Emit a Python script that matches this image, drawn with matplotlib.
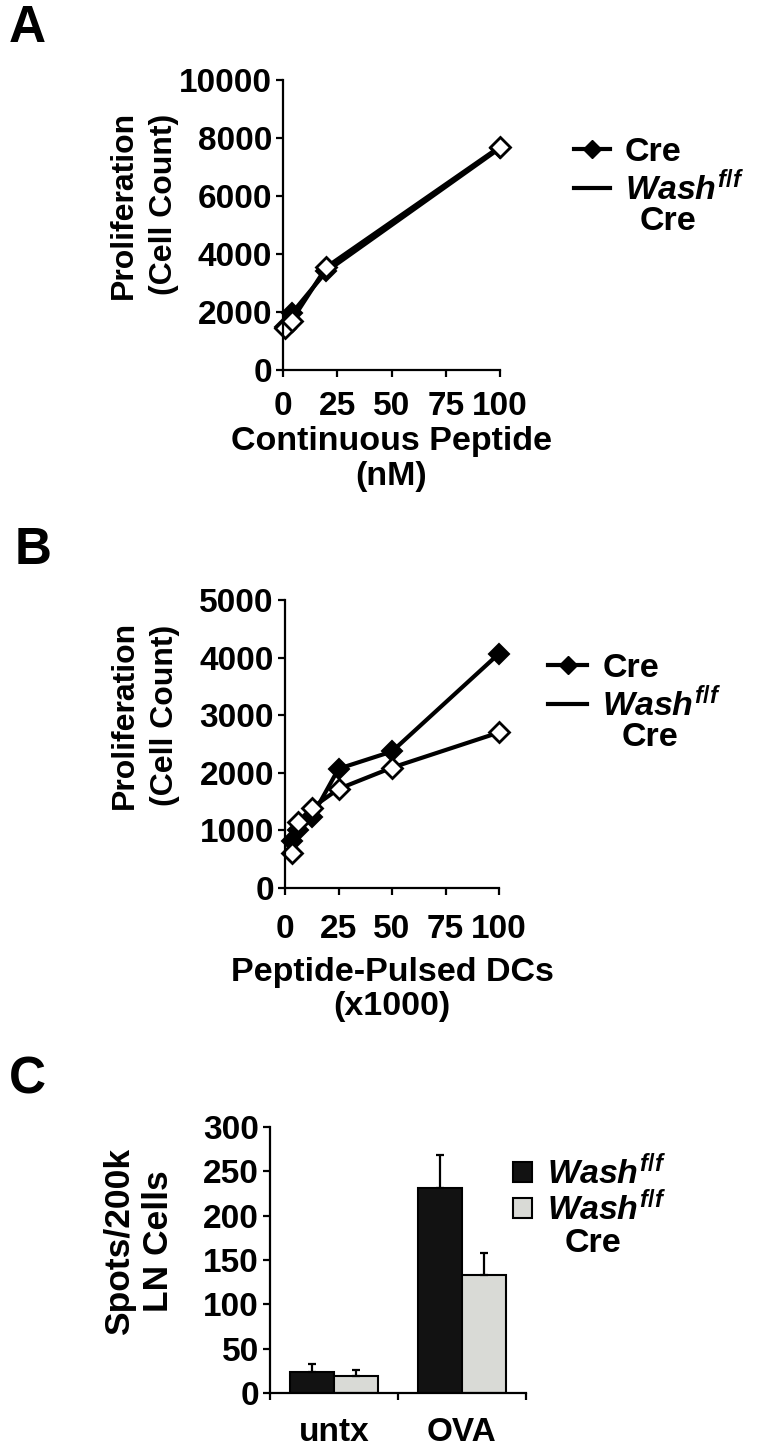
#Program to recreate the three-panel Wash proliferation figure
import matplotlib.pyplot as plt
from matplotlib.lines import Line2D
from matplotlib.patches import Patch

# panel A: continuous peptide (nM)
A_x = [0.8, 4, 20, 100]
A_cre = [1500, 1950, 3400, 7650]
A_wash = [1450, 1700, 3550, 7700]

# panel B: peptide-pulsed DCs (x1000)
B_x = [3.125, 6.25, 12.5, 25, 50, 100]
B_cre = [820, 1000, 1230, 2070, 2370, 4070]
B_wash = [610, 1150, 1390, 1720, 2090, 2700]

# panel C: ELISpot
C_groups = ['untx', 'OVA']
C_wash = [24, 231]
C_wash_err = [9, 37]
C_cre = [19, 133]
C_cre_err = [7, 25]

plt.rcParams['font.family'] = ['Liberation Sans', 'DejaVu Sans']
plt.rcParams['font.weight'] = 'bold'
plt.rcParams['mathtext.fontset'] = 'custom'
plt.rcParams['mathtext.it'] = 'Liberation Sans:italic:bold'
plt.rcParams['mathtext.rm'] = 'Liberation Sans:bold'
plt.rcParams['mathtext.bf'] = 'Liberation Sans:bold'
plt.rcParams['axes.linewidth'] = 1.6

W, H = 764, 1454
fig = plt.figure(figsize=(W / 100, H / 100), dpi=100)


def box(l, t, r, b):
    return [l / W, 1 - b / H, (r - l) / W, (b - t) / H]


def style(ax):
    ax.spines['top'].set_visible(False)
    ax.spines['right'].set_visible(False)
    ax.tick_params(direction='out', length=5, width=1.6, labelsize=24, pad=3)


wash_label = r'$\mathit{Wash}^{\mathit{f}\mathrm{/}\mathit{f}}$'
lab_font = 24.5
ylab_font = 23
leg_font = 24.5

#Panel A
axA = fig.add_axes(box(283, 80, 500, 370))
axA.plot(A_x, A_cre, '-D', color='black', lw=3, ms=10, mfc='black', mec='black', mew=1.5, clip_on=False)
axA.plot(A_x, A_wash, '-D', color='black', lw=3, ms=10, mfc='white', mec='black', mew=2, clip_on=False)
axA.set_xlim(0, 100)
axA.set_ylim(0, 10000)
axA.set_xticks([0, 25, 50, 75, 100])
axA.set_yticks(range(0, 10001, 2000))
style(axA)
axA.tick_params(axis='x', pad=10)
axA.set_xlabel('Continuous Peptide\n(nM)', fontsize=lab_font, fontweight='bold', labelpad=3, linespacing=1.15)
axA.set_ylabel('Proliferation\n(Cell Count)', fontsize=ylab_font, fontweight='bold', linespacing=1.45)
axA.yaxis.set_label_coords(-0.48, 0.57)

#Panel B
axB = fig.add_axes(box(285, 600, 499, 888))
axB.plot(B_x, B_cre, '-D', color='black', lw=3, ms=10, mfc='black', mec='black', mew=1.5, clip_on=False)
axB.plot(B_x, B_wash, '-D', color='black', lw=3, ms=10, mfc='white', mec='black', mew=2, clip_on=False)
axB.set_xlim(0, 100)
axB.set_ylim(0, 5000)
axB.set_xticks([0, 25, 50, 75, 100])
axB.set_yticks(range(0, 5001, 1000))
style(axB)
axB.tick_params(axis='x', pad=14)
axB.set_xlabel('Peptide-Pulsed DCs\n(x1000)', fontsize=lab_font, fontweight='bold', labelpad=8, linespacing=1.15)
axB.set_ylabel('Proliferation\n(Cell Count)', fontsize=ylab_font, fontweight='bold', linespacing=1.45)
axB.yaxis.set_label_coords(-0.49, 0.6)

# legends for A and B, with the second "Cre" line under Wash
for ax, anchor, hl, sub in [(axA, (574 / W, 1 - 137 / H), 1.05, (640, 221)),
                            (axB, (548 / W, 1 - 653 / H), 1.15, (622, 737))]:
    handles = [Line2D([], [], color='black', lw=3, marker='D', ms=9, mfc='black'),
               Line2D([], [], color='black', lw=3)]
    ax.legend(handles, ['Cre', wash_label], loc='upper left', bbox_to_anchor=anchor,
              bbox_transform=fig.transFigure, frameon=False, fontsize=leg_font, handlelength=hl,
              handletextpad=0.45, labelspacing=0.1, borderaxespad=0, borderpad=0)
    fig.text(sub[0] / W, 1 - sub[1] / H, 'Cre', fontsize=leg_font, fontweight='bold', ha='left', va='center')

#Panel C
axC = fig.add_axes(box(270, 1127, 526, 1393))
xs = range(len(C_groups))
w = 0.34
axC.bar([x - w / 2 for x in xs], C_wash, w, color='#121212', edgecolor='black', lw=1.5,
        yerr=[[0] * len(xs), C_wash_err], capsize=3, error_kw=dict(elinewidth=1.6, capthick=1.6), zorder=2)
axC.bar([x + w / 2 for x in xs], C_cre, w, color='#d9dad6', edgecolor='black', lw=1.5,
        yerr=[[0] * len(xs), C_cre_err], capsize=3, error_kw=dict(elinewidth=1.6, capthick=1.6), zorder=2)
axC.set_xlim(-0.5, len(C_groups) - 0.5)
axC.set_ylim(0, 300)
axC.set_yticks(range(0, 301, 50))
axC.set_xticks([-0.5, 0.5, 1.5])
axC.set_xticklabels([])
axC.set_xticks(list(xs), minor=True)
axC.set_xticklabels(C_groups, minor=True)
style(axC)
axC.tick_params(axis='x', which='minor', length=0, pad=17, labelsize=24)
axC.set_ylabel('Spots/200k\nLN Cells', fontsize=25.5, fontweight='bold', linespacing=1.25)
axC.yaxis.set_label_coords(-0.37, 0.57)
handles = [Patch(facecolor='#121212', edgecolor='black', lw=1.5),
           Patch(facecolor='#d9dad6', edgecolor='black', lw=1.5)]
axC.legend(handles, [wash_label, wash_label], loc='upper left', bbox_to_anchor=(513 / W, 1 - 1155 / H),
           bbox_transform=fig.transFigure, frameon=False, fontsize=leg_font, handlelength=0.55, handleheight=0.55,
           handletextpad=0.45, labelspacing=0.02, borderaxespad=0, borderpad=0)
fig.text(565 / W, 1 - 1243 / H, 'Cre', fontsize=leg_font, fontweight='bold', ha='left', va='center')

# panel letters
fig.text(27 / W, 1 - 28 / H, 'A', fontsize=37, fontweight='bold', ha='center', va='center')
fig.text(33 / W, 1 - 550 / H, 'B', fontsize=37, fontweight='bold', ha='center', va='center')
fig.text(27 / W, 1 - 1080 / H, 'C', fontsize=37, fontweight='bold', ha='center', va='center')

plt.savefig('out.png', dpi=100)
